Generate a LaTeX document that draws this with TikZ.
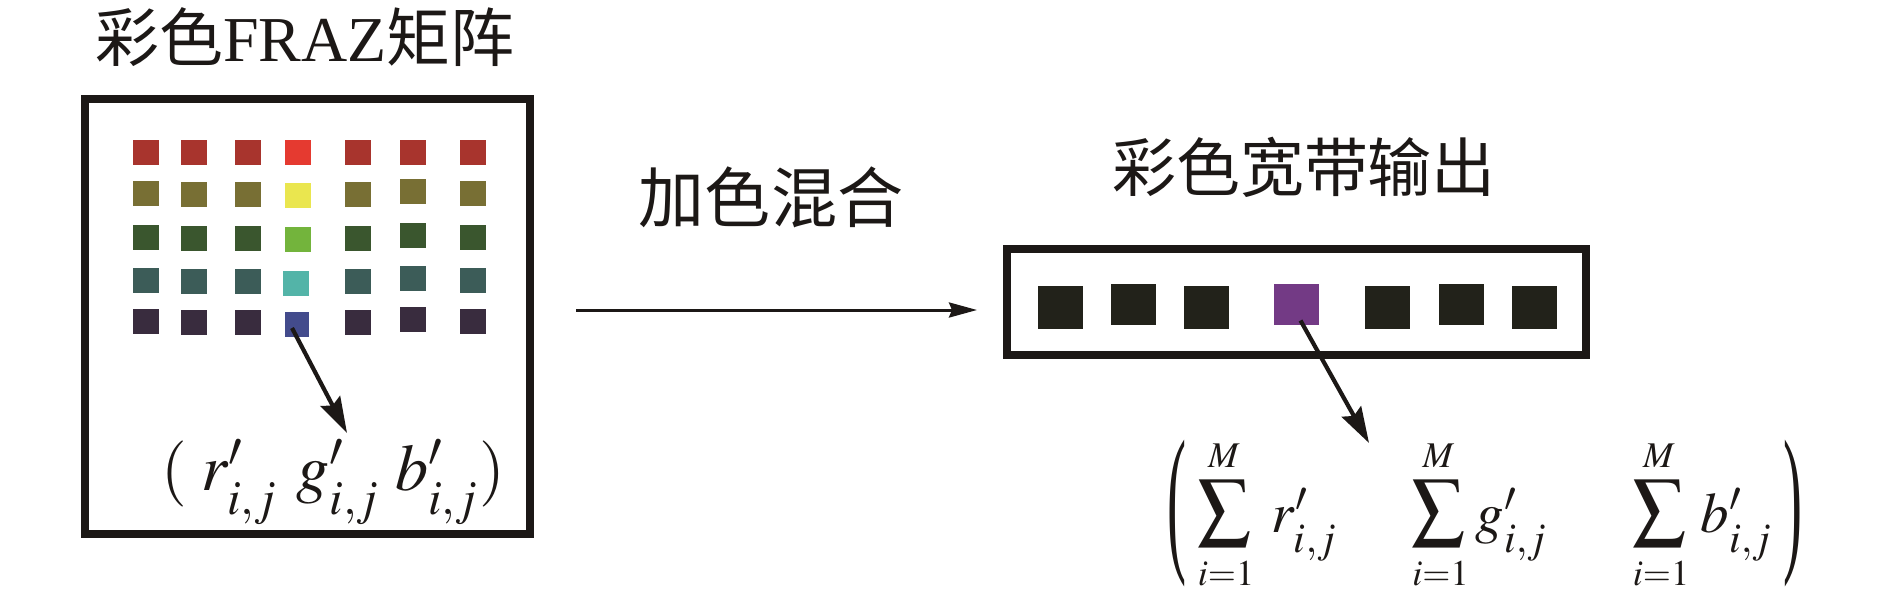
\documentclass[tikz,border=0pt]{standalone}
\usepackage{mathptmx}
\usepackage{fontspec}
\setmainfont{Liberation Serif}
\newfontfamily\cjk{Noto Sans CJK SC}
\usetikzlibrary{arrows.meta}
\definecolor{cR}{HTML}{A8342D}
\definecolor{cRh}{HTML}{E53A30}
\definecolor{cO}{HTML}{786F34}
\definecolor{cOh}{HTML}{EAE64F}
\definecolor{cG}{HTML}{3A562E}
\definecolor{cGh}{HTML}{73B43C}
\definecolor{cT}{HTML}{3C5C58}
\definecolor{cTh}{HTML}{53B4A8}
\definecolor{cP}{HTML}{392C3E}
\definecolor{cPh}{HTML}{434B8C}
\definecolor{cV}{HTML}{733A85}
\definecolor{cK}{HTML}{22221A}
\definecolor{ink}{HTML}{1C1816}
\newcommand{\lowij}{\raisebox{-0.12em}{$\scriptstyle i,j$}}
\tikzset{
  lsq/.style={draw=none, inner sep=0pt, minimum width=2.6mm, minimum height=2.5mm},
  rsq/.style={draw=none, inner sep=0pt, minimum width=4.5mm, minimum height=4.2mm},
  frame/.style={draw=ink, line width=0.8mm, inner sep=0pt},
  lbl/.style={inner sep=0pt, anchor=base, text=ink},
  sumbox/.style={inner sep=0pt, text=ink},
  lim/.style={inner sep=0pt, anchor=base, text=ink, font=\fontsize{10.3}{12}\selectfont},
  term/.style={inner sep=0pt, anchor=base west, text=ink, font=\fontsize{16.2}{20}\selectfont},
  conn/.style={draw=ink, line width=0.42mm, -{Stealth[length=3.6mm,width=2.2mm,inset=0.5mm]}},
  hconn/.style={draw=ink, line width=0.3mm, -{Stealth[length=2.8mm,width=1.5mm,inset=0.3mm]}}
}
\begin{document}
\begin{tikzpicture}[x=0.1mm, y=-0.1mm]
\path[use as bounding box] (0,0) rectangle (1890,600);
% frames
\node[frame, minimum width=44.5mm, minimum height=43.5mm] (Lbox) at (307.5,316.5) {};
\node[frame, minimum width=57.85mm, minimum height=10.6mm] (Rbox) at (1296.25,302) {};
% titles
\node[lbl, font=\fontsize{18.2}{20}\selectfont] (T1) at (305,62) {{\cjk 彩色}FRAZ{\cjk 矩阵}};
\node[lbl, font=\fontsize{18.8}{20}\selectfont] (T2) at (771,222) {\cjk 加色混合};
\node[lbl, font=\fontsize{18.2}{20}\selectfont] (T3) at (1304,192) {\cjk 彩色宽带输出};
% left grid
\foreach \c/\x/\dy in {1/146/0, 2/193.5/1, 3/248/1, 5/358/1, 6/413/-2, 7/473/0} {
  \node[lsq, fill=cR] (L1\c) at (\x,153) {};
  \node[lsq, fill=cO] (L2\c) at (\x,193+\dy) {};
  \node[lsq, fill=cG] (L3\c) at (\x,237+\dy) {};
  \node[lsq, fill=cT] (L4\c) at (\x,280+\dy) {};
  \node[lsq, fill=cP] (L5\c) at (\x,321+\dy) {};
}
\node[lsq, fill=cRh] (L14) at (298,153) {};
\node[lsq, fill=cOh] (L24) at (298,195) {};
\node[lsq, fill=cGh] (L34) at (298,239) {};
\node[lsq, fill=cTh] (L44) at (296,283) {};
\node[lsq, fill=cPh, minimum width=2.4mm] (L54) at (297,324) {};
% right squares
\node[rsq, fill=cK, minimum height=4.3mm] (R1) at (1060,307.5) {};
\node[rsq, fill=cK, minimum height=4.1mm] (R2) at (1133,304.5) {};
\node[rsq, fill=cK, minimum height=4.3mm] (R3) at (1206.5,307.5) {};
\node[rsq, fill=cV, minimum height=4.1mm] (R4) at (1296.5,304.5) {};
\node[rsq, fill=cK, minimum height=4.3mm] (R5) at (1387.5,307.5) {};
\node[rsq, fill=cK, minimum height=4.1mm] (R6) at (1461.5,304.5) {};
\node[rsq, fill=cK, minimum height=4.3mm] (R7) at (1534,307.5) {};
% formula 1
\node[lbl, font=\fontsize{18.8}{22}\selectfont] (F1) at (333,490)
  {$(\;r'_{\lowij}\mkern5mu g'_{\lowij}\mkern4mu b'_{\lowij})$};
% formula 2
\node[sumbox] (PL) at (1177,513.5) {\resizebox*{1.9mm}{14.7mm}{(}};
\node[sumbox] (PR) at (1793,513.5) {\resizebox*{1.9mm}{14.7mm}{)}};
\foreach \k/\sx/\tx/\tl in {1/1224/1271/r, 2/1438.5/1475/g, 3/1659/1700/b} {
  \node[sumbox] (S\k) at (\sx,513.5) {\resizebox*{5.4mm}{6.7mm}{$\displaystyle\sum$}};
  \node[lim] (U\k) at (\sx,467) {$M$};
  \node[lim] (D\k) at (\sx+2,585) {$i{=}1$};
  \node[term] (E\k) at (\tx,532) {$\tl'_{\lowij}$};
}
% connectors
\coordinate (a1) at (347,433);
\coordinate (a2) at (1369,443);
\coordinate (hs) at (576,310);
\coordinate (he) at (977,310);
\draw[conn] ([shift={(-5,4)}]L54.center) -- (a1);
\draw[conn] ([shift={(4,16)}]R4.center) -- (a2);
\draw[hconn] (hs) -- (he);
\end{tikzpicture}
\end{document}
